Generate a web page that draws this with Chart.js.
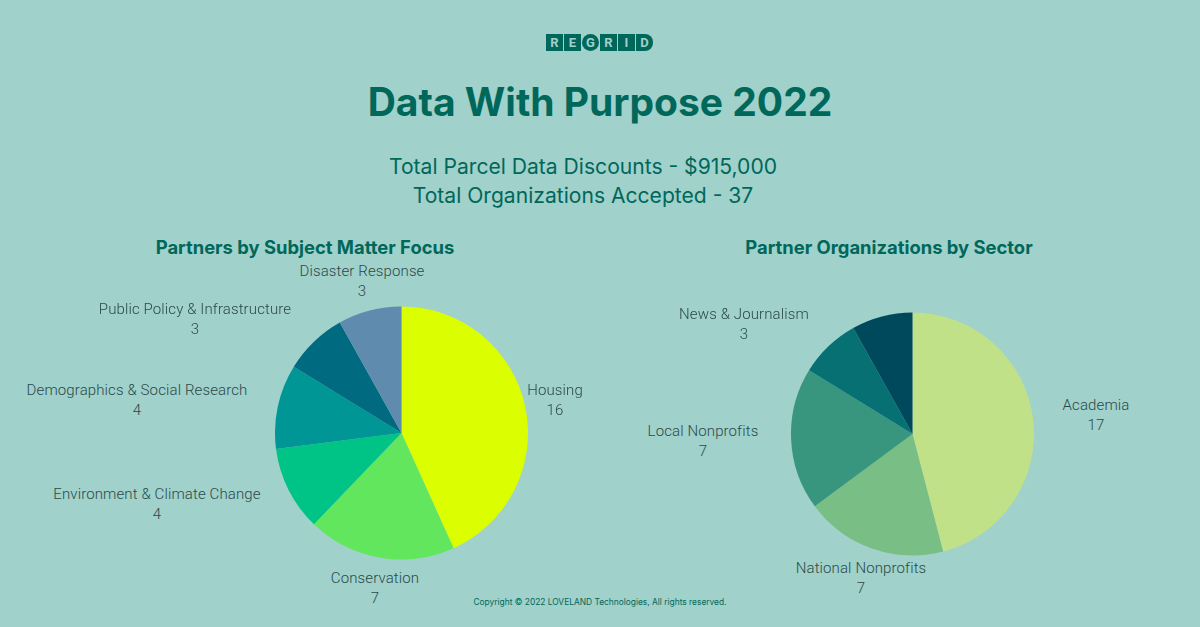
<!DOCTYPE html>
<html><head><meta charset="utf-8">
<script src="https://cdn.jsdelivr.net/npm/chart.js@4"></script>
<style>
html,body{margin:0;padding:0;width:1200px;height:627px;overflow:hidden;background:#A0D1CA;font-family:Inter,sans-serif}
.t{position:absolute;transform:translateX(-50%);white-space:nowrap;text-align:center}
.title{font-weight:700;font-size:39px;color:#00675B;line-height:48px}
.sub{font-weight:400;font-size:21.1px;color:#00675B;line-height:29px}
.head{font-weight:700;font-size:18.4px;color:#00675B;line-height:22px}
.lab{font-family:Roboto,sans-serif;font-weight:300;font-size:15px;letter-spacing:.12px;color:#2b4a4a;line-height:20px}
.copy{font-size:8.4px;color:#00675B;line-height:10px}
canvas{position:absolute}
#logo{position:absolute;left:546px;top:34px;display:flex;gap:1px}
#logo span{width:17px;height:17px;background:#00675B;color:#A0D1CA;font:700 13px/17px Roboto,sans-serif;text-align:center;display:block}
#logo span:nth-child(3){border-radius:50%}
#logo span:nth-child(6){border-radius:0 8px 8px 0}
</style></head><body>
<div id="logo"></div>
<div class="t title" style="left:600px;top:78px">Data With Purpose 2022</div>
<div class="t sub" style="left:583px;top:152px">Total Parcel Data Discounts - $915,000<br>Total Organizations Accepted - 37</div>
<div class="t head" style="left:305px;top:236px">Partners by Subject Matter Focus</div>
<div class="t head" style="left:889px;top:236px">Partner Organizations by Sector</div>
<canvas id="a" width="253" height="254" style="left:275px;top:306px;width:253px;height:254px"></canvas>
<canvas id="b" width="243" height="244" style="left:791px;top:312px;width:243px;height:244px"></canvas>
<div class="t copy" style="left:600px;top:597px">Copyright © 2022 LOVELAND Technologies, All rights reserved.</div>
<script>
const logoLetters = ["R","E","G","R","I","D"];
const subjectCategories = ["Housing","Conservation","Environment & Climate Change","Demographics & Social Research","Public Policy & Infrastructure","Disaster Response"];
const subjectValues = [16,7,4,4,3,3];
const subjectColors = ["#DBFF00","#62E65E","#00C386","#009696","#006B80","#5F8CAE"];
const sectorCategories = ["Academia","National Nonprofits","Local Nonprofits","News & Journalism",""];
const sectorValues = [17,7,7,3,3];
const sectorColors = ["#C1E188","#78BE85","#38967F","#067073","#00495C"];
// label centres (page pixels), null = no label in the reference
const subjectLabelPos = [[555,380],[375,568],[157,484],[137,380],[195,299],[362,261]];
const sectorLabelPos = [[1096,395],[861,558],[703,421],[744,304],null];

const logo = document.getElementById("logo");
logoLetters.forEach(l => { const s = document.createElement("span"); s.textContent = l; logo.appendChild(s); });

function labels(names, vals, pos){
  names.forEach((n,i) => {
    if(!pos[i]) return;
    const d = document.createElement("div");
    d.className = "t lab";
    d.style.left = pos[i][0] + "px";
    d.style.top = pos[i][1] + "px";
    d.append(n, document.createElement("br"), String(vals[i]));
    document.body.appendChild(d);
  });
}
function pie(id, names, vals, cols){
  new Chart(document.getElementById(id), {
    type: "pie",
    data: { labels: names, datasets: [{ data: vals, backgroundColor: cols, borderWidth: 0 }] },
    options: { responsive: false, animation: false, layout: { padding: 0 },
      plugins: { legend: { display: false }, tooltip: { enabled: false } } }
  });
}
pie("a", subjectCategories, subjectValues, subjectColors);
pie("b", sectorCategories, sectorValues, sectorColors);
labels(subjectCategories, subjectValues, subjectLabelPos);
labels(sectorCategories, sectorValues, sectorLabelPos);
</script>
</body></html>
